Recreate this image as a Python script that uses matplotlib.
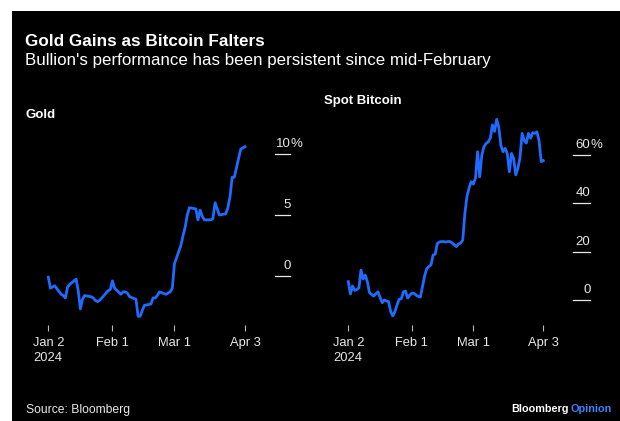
import matplotlib
matplotlib.use("Agg")
import matplotlib.pyplot as plt
import matplotlib.dates as mdates
import matplotlib.transforms as mtransforms
from matplotlib.patches import Rectangle
import pandas as pd

W, H = 620, 421
BLUE = "#1f6bff"
FG = "#e8e8e8"

# cumulative % change since Jan 2, 2024
gold_dates = pd.bdate_range("2024-01-02", "2024-04-03")
gold_pct = [
    -0.1, -1.0, -0.9, -0.8, -1.5, -1.6, -1.8, -0.9, -0.7, -0.25, -1.2,
    -2.7, -1.9, -1.6, -1.7, -1.8, -2.0, -2.1, -2.0, -1.4, -1.2, -1.1,
    -0.4, -1.0, -1.5, -1.3, -1.3, -1.4, -1.7, -1.9, -3.3, -3.3, -2.8,
    -2.4, -2.3, -1.8, -1.8, -1.6, -1.3, -1.5, -1.4, -1.3, -1.0,
    1.0, 2.5, 3.3, 4.0, 5.0, 5.6, 5.5, 4.6, 5.4, 4.9, 4.6,
    4.6, 4.7, 6.0, 5.5, 5.0, 5.1, 5.6, 6.5, 8.1, 8.1,
    10.4, 10.5, 10.6,
]

btc_dates = pd.date_range("2024-01-02", "2024-04-03")
btc_pct = [
    7.6, 2.5, 5.8, 4.0, 4.3, 5.0, 12.4, 8.7, 10.3, 7.6,
    3.0, 2.3, 1.6, 2.6, 3.4, 1.0, -1.1, 0.0, -0.4, -0.7,
    -4.8, -6.6, -4.8, -2.0, 0.3, 0.5, 3.4, 3.7, 0.8, 2.0,
    2.8, 2.8, 2.0, 1.5, 1.2, 5.5, 10.0, 13.0, 13.8, 14.5,
    18.6, 19.0, 23.4, 24.0, 24.2, 24.2, 24.0, 24.2, 24.2, 23.6,
    22.8, 22.1, 23.2, 23.6, 24.8, 35.9, 43.0, 46.5, 49.0, 48.0,
    50.5, 61.4, 51.0, 60.0, 63.5, 64.8, 65.5, 67.0, 72.5, 69.8,
    74.8, 71.5, 64.0, 61.4, 62.8, 60.7, 53.1, 60.7, 58.6, 51.8,
    54.5, 59.0, 69.0, 66.0, 65.0, 69.0, 67.0, 69.3, 69.0, 69.6,
    66.0, 57.3, 57.7,
]

tick_dates = pd.to_datetime(["2024-01-02", "2024-02-01", "2024-03-01", "2024-04-03"])
tick_labels = ["Jan 2\n2024", "Feb 1", "Mar 1", "Apr 3"]
gold_yticks = [0, 5, 10]
btc_yticks = [0, 20, 40, 60]

plt.rcParams["font.family"] = ["Liberation Sans", "DejaVu Sans"]

fig = plt.figure(figsize=(W / 100, H / 100), dpi=100, facecolor="white")
fig.patches.append(Rectangle((12 / W, 0), 1, (H - 11) / H, transform=fig.transFigure,
                             facecolor="black", edgecolor="none", zorder=-10))


def px_box(left, top, right, bottom):
    return [left / W, 1 - bottom / H, (right - left) / W, (bottom - top) / H]


def panel(left, right, x_first, x_last, top, bottom, y_zero, px_per_unit,
          dates, values, yticks, mark_x0, mark_x1, title, title_x, title_y):
    ax = fig.add_axes(px_box(left, top, right, bottom))
    ax.set_facecolor("none")
    ax.plot(dates, values, color=BLUE, lw=2.0, solid_joinstyle="round")

    # x limits so the first/last ticks land on the given pixel columns
    d0, d1 = mdates.date2num(tick_dates[0]), mdates.date2num(tick_dates[-1])
    per_px = (d1 - d0) / (x_last - x_first)
    ax.set_xlim(d0 - (x_first - left) * per_px, d1 + (right - x_last) * per_px)
    ax.set_ylim(-(bottom - y_zero) / px_per_unit, (y_zero - top) / px_per_unit)

    ax.set_xticks(tick_dates)
    ax.set_xticklabels(tick_labels, fontsize=9.3, color=FG, linespacing=1.35)
    ax.tick_params(axis="x", length=4, width=0.8, color="#bbbbbb", pad=4.5)
    ax.set_yticks([])
    for s in ax.spines.values():
        s.set_visible(False)

    # right-hand value scale: label sitting on a short rule
    blend = mtransforms.blended_transform_factory(fig.transFigure, ax.transData)
    lab_tr = mtransforms.offset_copy(blend, fig=fig, y=4, units="dots")
    for v in yticks:
        ax.plot([mark_x0 / W, mark_x1 / W], [v, v], transform=blend, color=FG,
                lw=0.9, clip_on=False)
        ax.text(mark_x1 / W + 0.5 / W, v, str(v), transform=lab_tr, ha="right",
                va="bottom", fontsize=9.5, color=FG)
    ax.text(mark_x1 / W + 0.8 / W, yticks[-1], "%", transform=lab_tr, ha="left",
            va="bottom", fontsize=9.5, color=FG)

    fig.text(title_x / W, 1 - title_y / H, title, fontsize=9.5,
             fontweight="bold", color="white", va="center")
    return ax


panel(40, 255, 48.3, 245, 130, 325, 276, 12.2, gold_dates, gold_pct,
      gold_yticks, 275, 290, "Gold", 25, 115)
panel(340, 553, 348.3, 543.3, 110, 325, 300, 2.415, btc_dates, btc_pct,
      btc_yticks, 573, 590, "Spot Bitcoin", 324, 101)

fig.text(25 / W, 1 - 41 / H, "Gold Gains as Bitcoin Falters", fontsize=12.3,
         fontweight="bold", color="white", va="center")
fig.text(25 / W, 1 - 61 / H, "Bullion's performance has been persistent since mid-February",
         fontsize=12.2, color="white", va="center")
fig.text(26 / W, 1 - 410 / H, "Source: Bloomberg", fontsize=8.7, color=FG, va="center")

op = fig.text(612 / W, 1 - 409 / H, "Opinion", fontsize=7.8, fontweight="bold",
              color="#3a82ff", ha="right", va="center")
fig.canvas.draw()
op_left = op.get_window_extent().x0
fig.text((op_left - 2.5) / W, 1 - 409 / H, "Bloomberg", fontsize=7.8,
         fontweight="bold", color="white", ha="right", va="center")

fig.savefig("out.png", dpi=100, facecolor=fig.get_facecolor())
